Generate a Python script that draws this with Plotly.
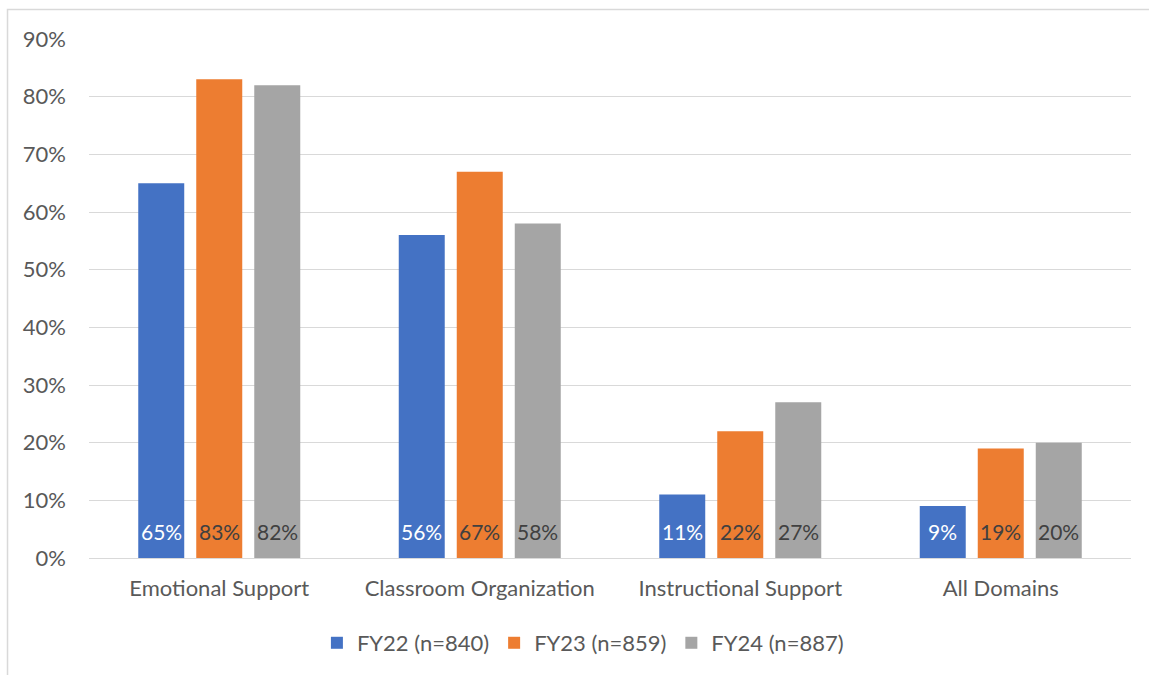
import plotly.graph_objects as go

categories = ["Emotional Support", "Classroom Organization", "Instructional Support", "All Domains"]
series_names = ["FY22 (n=840)", "FY23 (n=859)", "FY24 (n=887)"]
fy22 = [65, 56, 11, 9]
fy23 = [83, 67, 22, 19]
fy24 = [82, 58, 27, 20]
y_ticks = [0, 10, 20, 30, 40, 50, 60, 70, 80, 90]

series_values = [fy22, fy23, fy24]
colors = ["#4472C4", "#ED7D31", "#A5A5A5"]
label_colors = ["#FFFFFF", "#404040", "#404040"]
FONT = "Lato"

fig = go.Figure()
for name, vals, col in zip(series_names, series_values, colors):
    fig.add_trace(go.Bar(
        x=categories, y=[v / 100 for v in vals], name=name,
        marker=dict(color=col, line=dict(width=0)),
        hoverinfo="skip",
    ))

# value labels near the base of each bar
slot_px = 58
for i, (vals, lc) in enumerate(zip(series_values, label_colors)):
    for cat, v in zip(categories, vals):
        fig.add_annotation(
            x=cat, y=0, yanchor="bottom", xanchor="center",
            text=f"{v}%", showarrow=False,
            xshift=(i - 1) * slot_px, yshift=12,
            font=dict(family=FONT, size=21, color=lc),
        )

# outer chart frame
fig.add_shape(type="rect", xref="paper", yref="paper",
              x0=-0.0782, x1=1.3, y0=-0.6, y1=1.0567,
              line=dict(color="#D9D9D9", width=1.5), fillcolor="rgba(0,0,0,0)",
              layer="below")

fig.update_layout(
    width=1149, height=675,
    margin=dict(l=89, r=18, t=39, b=116),
    paper_bgcolor="white", plot_bgcolor="white",
    barmode="group", bargap=0.332, bargroupgap=0.207,
    font=dict(family=FONT, color="#595959", size=22),
    showlegend=True,
    legend=dict(orientation="h", x=0.474, xanchor="center", y=-0.1615, yanchor="middle",
                font=dict(family=FONT, size=22, color="#595959"),
                itemwidth=30, traceorder="normal"),
    xaxis=dict(showgrid=False, showline=False, ticks="", ticklabelstandoff=15,
               tickfont=dict(family=FONT, size=22, color="#595959")),
    yaxis=dict(range=[0, 0.9], tickvals=[t / 100 for t in y_ticks],
               ticktext=[f"{t}%" for t in y_ticks],
               showgrid=True, gridcolor="#D9D9D9", gridwidth=1.3,
               zeroline=True, zerolinecolor="#D9D9D9", zerolinewidth=1.3,
               showline=False, ticks="", ticklabelstandoff=22,
               tickfont=dict(family=FONT, size=22, color="#595959")),
)

fig.write_html("out.html")
